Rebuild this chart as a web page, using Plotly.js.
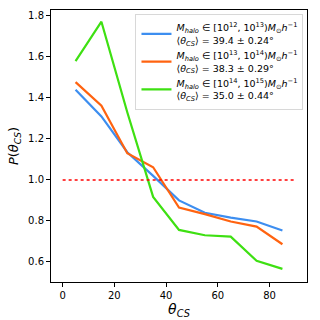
<!DOCTYPE html>
<html>
<head>
<meta charset="utf-8">
<script src="https://cdn.plot.ly/plotly-3.0.1.min.js"></script>
<style>
  html, body { margin: 0; padding: 0; background: #fff; }
  #plot { width: 320px; height: 320px; }
</style>
</head>
<body>
<div id="plot"></div>
<script>
// angle bins (degrees)
var thetaCS = [5, 15, 25, 35, 45, 55, 65, 75, 85];

// P(theta_CS) for each halo mass bin
var pLow  = [1.44, 1.31, 1.135, 1.02, 0.90, 0.84, 0.816, 0.797, 0.753];
var pMid  = [1.477, 1.362, 1.13, 1.062, 0.865, 0.833, 0.797, 0.772, 0.686];
var pHigh = [1.58, 1.772, 1.33, 0.917, 0.756, 0.73, 0.723, 0.605, 0.566];

// reference line (isotropic)
var refX = [0, 90];
var refY = [1, 1];

var legendNames = [
    "<i>M</i><sub><i>halo</i></sub> ∈ [10<sup>12</sup>, 10<sup>13</sup>)<i>M</i><sub>⊙</sub><i>h</i><sup>−1</sup><br>⟨<i>θ</i><sub><i>CS</i></sub>⟩ = 39.4 ± 0.24°",
    "<i>M</i><sub><i>halo</i></sub> ∈ [10<sup>13</sup>, 10<sup>14</sup>)<i>M</i><sub>⊙</sub><i>h</i><sup>−1</sup><br>⟨<i>θ</i><sub><i>CS</i></sub>⟩ = 38.3 ± 0.29°",
    "<i>M</i><sub><i>halo</i></sub> ∈ [10<sup>14</sup>, 10<sup>15</sup>)<i>M</i><sub>⊙</sub><i>h</i><sup>−1</sup><br>⟨<i>θ</i><sub><i>CS</i></sub>⟩ = 35.0 ± 0.44°"
];

var warna = ["#3d8ef0", "#ff6310", "#3ee012"];
var semuaY = [pLow, pMid, pHigh];

var traces = semuaY.map(function (y, i) {
    return {
        x: thetaCS,
        y: y,
        type: "scatter",
        mode: "lines",
        name: legendNames[i],
        line: { color: warna[i], width: 2.2 }
    };
});

traces.push({
    x: refX,
    y: refY,
    type: "scatter",
    mode: "lines",
    showlegend: false,
    line: { color: "#ff0000", width: 1.5, dash: "dot" }
});

var sumbu = {
    showline: true,
    linecolor: "#000",
    linewidth: 1,
    mirror: true,
    ticks: "outside",
    ticklen: 4,
    tickwidth: 1,
    tickcolor: "#000",
    showgrid: false,
    zeroline: false,
    tickfont: { family: "DejaVu Sans", size: 10, color: "#000" }
};

var layout = {
    width: 320,
    height: 320,
    margin: { l: 51, r: 13, t: 10, b: 38 },
    paper_bgcolor: "#fff",
    plot_bgcolor: "#fff",
    font: { family: "DejaVu Sans", color: "#000" },
    xaxis: Object.assign({}, sumbu, {
        range: [-4.5, 94.5],
        tickvals: [0, 20, 40, 60, 80],
        title: { text: "<i>θ</i><sub><i>CS</i></sub>", font: { size: 14 }, standoff: 0 }
    }),
    yaxis: Object.assign({}, sumbu, {
        range: [0.502, 1.829],
        tickvals: [0.6, 0.8, 1.0, 1.2, 1.4, 1.6, 1.8],
        tickformat: ".1f",
        title: { text: "<i>P</i>(<i>θ</i><sub><i>CS</i></sub>)", font: { size: 13 }, standoff: 6 }
    }),
    legend: {
        x: 0.33,
        y: 0.985,
        xanchor: "left",
        yanchor: "top",
        bgcolor: "rgba(255,255,255,0.9)",
        bordercolor: "#d8d8d8",
        borderwidth: 1,
        font: { family: "DejaVu Sans", size: 9.5, color: "#000" },
        tracegroupgap: 0
    },
    showlegend: true
};

Plotly.newPlot("plot", traces, layout, { displayModeBar: false, staticPlot: true });
</script>
</body>
</html>
